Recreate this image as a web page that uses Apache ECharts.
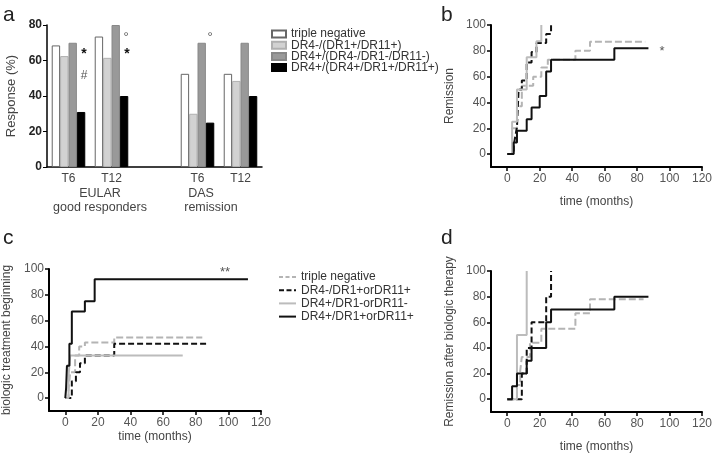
<!DOCTYPE html>
<html><head><meta charset="utf-8">
<script src="https://cdn.jsdelivr.net/npm/echarts@6/dist/echarts.min.js"></script>
<style>html,body{margin:0;padding:0;background:#fff}#c{width:715px;height:454px}</style>
</head><body><div id="c"></div><script>
// ---- Panel a: bar data ----
const barCategories = ['T6', 'T12', '', 'T6', 'T12'];
const barNames = ['triple negative', 'DR4-/(DR1+/DR11+)', 'DR4+/(DR4-/DR1-/DR11-)', 'DR4+/(DR4+/DR1+/DR11+)'];
const barTripleNeg = [68.5, 73.5, null, 52.5, 52.5];
const barDR4negDR1pos = [62.5, 61.5, null, 30, 48.5];
const barDR4posNeg = [70, 80, null, 70, 70];
const barDR4posPos = [31, 40, null, 25, 40];
const yTicksA = [0, 20, 40, 60, 80];

// ---- KM curves: names ----
const kmNames = ['triple negative', 'DR4-/DR1+orDR11+', 'DR4+/DR1-orDR11-', 'DR4+/DR1+orDR11+'];
const timeTicks = [0, 20, 40, 60, 80, 100, 120];
const pctTicks = [0, 20, 40, 60, 80, 100];

// Panel b: Remission
const bTripleNeg = [[0,0],[3,20],[6,37],[9,53],[16,60],[21,67],[25,73],[42,80],[51,87],[85,87]];
const bDR4negDR1pos = [[0,0],[4,7],[5,14],[6,21],[7,50],[9,57],[12,71],[15,79],[18,86],[24,93],[27,100]];
const bDR4posNeg = [[0,0],[3,25],[6,50],[12,75],[18,87.5],[21,100]];
const bDR4posPos = [[0,0],[4,9],[6,18],[12,27],[15,36],[20,45],[24,64],[27,73],[66,82],[87,82]];

// Panel c: biologic treatment beginning
const cTripleNeg = [[0,0],[2,7],[3,20],[6,33],[8.5,40],[12,43],[30,47],[84,47]];
const cDR4negDR1pos = [[0,0],[4,13],[6.5,20],[9,27],[12,33],[30,42],[88,42]];
const cDR4posNeg = [[0,0],[2,17],[3,33],[72,33]];
const cDR4posPos = [[0,0],[0.5,8],[1,25],[2.5,42],[4,67],[12,75],[18,92],[112,92]];

// Panel d: Remission after biologic therapy
const dTripleNeg = [[0,0],[6,11],[8,22],[9,33],[14,44],[21,55],[42,67],[51,78],[84,78]];
const dDR4negDR1pos = [[0,0],[9,20],[12,40],[15,60],[24,80],[27,100]];
const dDR4posNeg = [[0,0],[6,50],[12,100]];
const dDR4posPos = [[0,0],[3,10],[6,20],[12,30],[15,40],[24,60],[27,70],[66,80],[87,80]];

const FONT = 'Liberation Sans, Arial, sans-serif';
const chart = echarts.init(document.getElementById('c'), null, {renderer: 'canvas'});

const barStyles = [
  {color: '#ffffff', borderColor: '#666', borderWidth: 1},
  {color: '#d2d2d2', borderColor: '#b0b0b0', borderWidth: 1},
  {color: '#999999', borderColor: '#888', borderWidth: 1},
  {color: '#000000', borderColor: '#000', borderWidth: 1}
];
const barData = [barTripleNeg, barDR4negDR1pos, barDR4posNeg, barDR4posPos];

const kmStyles = [
  {color: '#b4b4b4', type: [7, 3], legendType: [4, 2.5]},
  {color: '#111111', type: [6, 3], legendType: [5, 2.5]},
  {color: '#bcbcbc', type: 'solid', legendType: 'solid'},
  {color: '#111111', type: 'solid', legendType: 'solid'}
];
// KM series names in b/c/d; trailing space keeps legend entries distinct from panel a bars
const kmSeriesNames = kmNames.map((n, i) => i === 0 ? n + ' ' : n);
const kmPanels = [
  [bTripleNeg, bDR4negDR1pos, bDR4posNeg, bDR4posPos],
  [cTripleNeg, cDR4negDR1pos, cDR4posNeg, cDR4posPos],
  [dTripleNeg, dDR4negDR1pos, dDR4posNeg, dDR4posPos]
];

function timeAxis(gridIndex, nameGap) {
  return {
    type: 'value', gridIndex, min: -10, max: 120,
    name: 'time (months)', nameLocation: 'middle', nameGap,
    nameTextStyle: {color: '#444', fontSize: 12, fontFamily: FONT},
    axisLine: {show: true, onZero: false, lineStyle: {color: '#000', width: 2}},
    axisTick: {show: true, length: 4, customValues: timeTicks, lineStyle: {color: '#000', width: 1.5}},
    axisLabel: {customValues: timeTicks, color: '#555', fontSize: 12, fontFamily: FONT, margin: 6},
    splitLine: {show: false}
  };
}
function pctAxis(gridIndex, name, nameGap) {
  return {
    type: 'value', gridIndex, min: -10, max: 100,
    name, nameLocation: 'middle', nameGap,
    nameTextStyle: {color: '#444', fontSize: 12, fontFamily: FONT},
    axisLine: {show: true, onZero: false, lineStyle: {color: '#000', width: 2}},
    axisTick: {show: true, length: 4, customValues: pctTicks, lineStyle: {color: '#000', width: 1.5}},
    axisLabel: {customValues: pctTicks, color: '#555', fontSize: 12, fontFamily: FONT, margin: 5},
    splitLine: {show: false}
  };
}

const series = [];
barNames.forEach((n, i) => {
  series.push({
    type: 'bar', name: n, xAxisIndex: 0, yAxisIndex: 0,
    data: barData[i], itemStyle: barStyles[i],
    barGap: '0%', barCategoryGap: '22%'
  });
});
kmPanels.forEach((panel, p) => {
  panel.forEach((data, i) => {
    series.push({
      type: 'line', name: kmSeriesNames[i], xAxisIndex: p + 1, yAxisIndex: p + 1,
      data, step: 'end', symbol: 'none', showSymbol: false,
      lineStyle: {color: kmStyles[i].color, type: kmStyles[i].type, width: 2},
      itemStyle: {color: kmStyles[i].color},
      z: 2 + i
    });
  });
});

const txt = (x, y, t, size, extra) => Object.assign({
  type: 'text', x, y, style: Object.assign({text: t, fontSize: size, fontFamily: FONT, fill: '#444'}, extra || {})
});

chart.setOption({
  animation: false,
  backgroundColor: '#fff',
  textStyle: {fontFamily: FONT},
  grid: [
    {left: 47, top: 25, width: 215, height: 142},
    {left: 491, top: 25, width: 213, height: 142},
    {left: 48, top: 269, width: 213, height: 142},
    {left: 491, top: 271, width: 213, height: 142}
  ],
  xAxis: [
    {
      type: 'category', gridIndex: 0, data: barCategories,
      axisLine: {lineStyle: {color: '#000', width: 1.5}},
      axisTick: {alignWithLabel: true, length: 4, interval: (i, v) => v !== '', lineStyle: {color: '#000'}},
      axisLabel: {color: '#444', fontSize: 12, fontFamily: FONT, margin: 6, interval: 0}
    },
    timeAxis(1, 29), timeAxis(2, 20), timeAxis(3, 29)
  ],
  yAxis: [
    {
      type: 'value', gridIndex: 0, min: 0, max: 80, interval: 20,
      name: 'Response (%)', nameLocation: 'middle', nameGap: 29,
      nameTextStyle: {color: '#444', fontSize: 13, fontFamily: FONT},
      axisLine: {show: true, lineStyle: {color: '#000', width: 1.5}},
      axisTick: {show: true, length: 4, lineStyle: {color: '#000'}},
      axisLabel: {color: '#222', fontSize: 12, fontWeight: 'bold', fontFamily: FONT, margin: 5},
      splitLine: {show: false}
    },
    pctAxis(1, 'Remission', 35),
    pctAxis(2, 'biologic treatment beginning', 36),
    pctAxis(3, 'Remission after biologic therapy', 35)
  ],
  legend: [
    {
      left: 271, top: 28, orient: 'vertical', icon: 'rect', padding: 0,
      itemWidth: 14, itemHeight: 7, itemGap: -0.8,
      data: barNames, selectedMode: false,
      textStyle: {color: '#333', fontSize: 12, fontFamily: FONT}
    },
    {
      left: 278, top: 271, orient: 'vertical', padding: 0,
      itemWidth: 17, itemHeight: 7, itemGap: 1.2,
      itemStyle: {opacity: 0, color: 'rgba(0,0,0,0)', borderWidth: 0},
      data: kmSeriesNames.map((n, i) => ({
        name: n,
        lineStyle: {color: kmStyles[i].color, type: kmStyles[i].legendType, width: 2}
      })),
      selectedMode: false,
      textStyle: {color: '#333', fontSize: 12, fontFamily: FONT}
    }
  ],
  graphic: [
    txt(3, 5, 'a', 21, {fill: '#222'}),
    txt(441, 5, 'b', 21, {fill: '#222'}),
    txt(3, 228, 'c', 21, {fill: '#222'}),
    txt(441, 228, 'd', 21, {fill: '#222'}),
    txt(100, 187, 'EULAR', 12.5, {align: 'center'}),
    txt(100, 201, 'good responders', 12.5, {align: 'center'}),
    txt(201, 187, 'DAS', 12.5, {align: 'center'}),
    txt(211, 201, 'remission', 12.5, {align: 'center'}),
    txt(84, 47, '*', 14, {align: 'center', fill: '#111', fontWeight: 'bold'}),
    txt(84, 70, '#', 12, {align: 'center', fill: '#555'}),
    txt(126, 31, '°', 13, {align: 'center', fill: '#555'}),
    txt(127, 47, '*', 14, {align: 'center', fill: '#111', fontWeight: 'bold'}),
    txt(210, 31, '°', 13, {align: 'center', fill: '#555'}),
    txt(662, 45, '*', 13, {align: 'center', fill: '#555'}),
    txt(225, 266, '**', 13, {align: 'center', fill: '#555'})
  ],
  series
});
</script></body></html>
